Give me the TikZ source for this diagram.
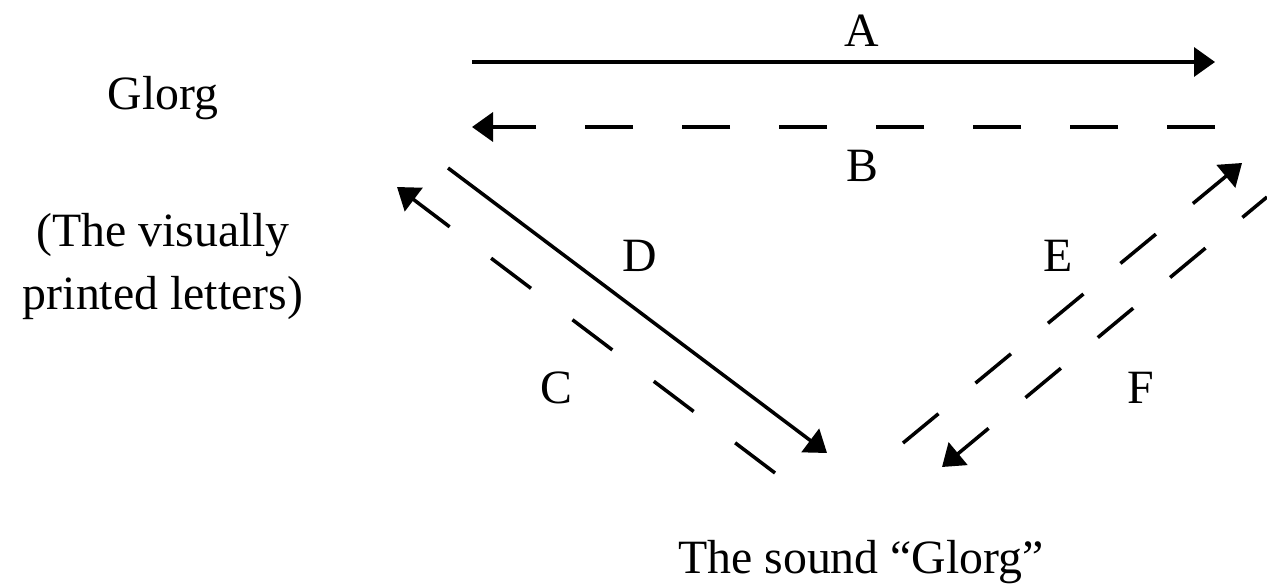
\documentclass[tikz,border=0pt]{standalone}
\usepackage{fontspec}
\setmainfont{Liberation Serif}
\usetikzlibrary{arrows.meta}

\begin{document}
\begin{tikzpicture}[x=0.1mm, y=-0.1mm, >={Triangle[length=2.1mm, width=2.9mm]}, line width=1pt]

    % Define styles
    \tikzset{
        solidarrow/.style={->, black},
        dasharrow/.style={->, black, dash pattern=on 4.8mm off 4.9mm},
        diagdash/.style={->, black, dash pattern=on 4.6mm off 4.8mm},
        lbl/.style={font=\fontsize{13.6}{17.8}\selectfont, inner sep=0pt, anchor=base},
        sidetext/.style={lbl, align=center}
    }

    \useasboundingbox (0,0) rectangle (1267,586);

    % 1. Define Coordinates (pixel grid of the page)
    \coordinate (Atail) at (472,62);
    \coordinate (Ahead) at (1215,62);
    \coordinate (Btail) at (1215,127);
    \coordinate (Bhead) at (472,127);
    \coordinate (Ctail) at (775,473);
    \coordinate (Chead) at (397,187);
    \coordinate (Dtail) at (448,168);
    \coordinate (Dhead) at (827,453);
    \coordinate (Etail) at (903,443);
    \coordinate (Ehead) at (1242,163);
    \coordinate (Ftail) at (1267,197);
    \coordinate (Fhead) at (942,467);

    % 2. Texts on the corners
    \node[lbl] (GlorgWord) at (163,110) {Glorg};
    % base of a two-line node is its last line
    \node[sidetext] (GlorgNote) at (163,309) {(The visually\\printed letters)};
    \node[lbl] (SoundText) at (861,573) {The sound “Glorg”};

    % 3. Top pair
    \draw[solidarrow] (Atail) -- (Ahead);
    \draw[dasharrow] (Btail) -- (Bhead);
    \node[lbl] (LabA) at (862,47) {A};
    \node[lbl] (LabB) at (862,182) {B};

    % 4. Left pair
    \draw[dasharrow, dash pattern=on 5mm off 5.2mm] (Ctail) -- (Chead);
    \draw[solidarrow] (Dtail) -- (Dhead);
    \node[lbl] (LabC) at (556,403) {C};
    \node[lbl] (LabD) at (640,272) {D};

    % 5. Right pair
    \draw[diagdash] (Etail) -- (Ehead);
    \draw[diagdash, dash phase=1.4mm] (Ftail) -- (Fhead);
    \node[lbl] (LabE) at (1058,272) {E};
    \node[lbl] (LabF) at (1141,403) {F};

\end{tikzpicture}
\end{document}
